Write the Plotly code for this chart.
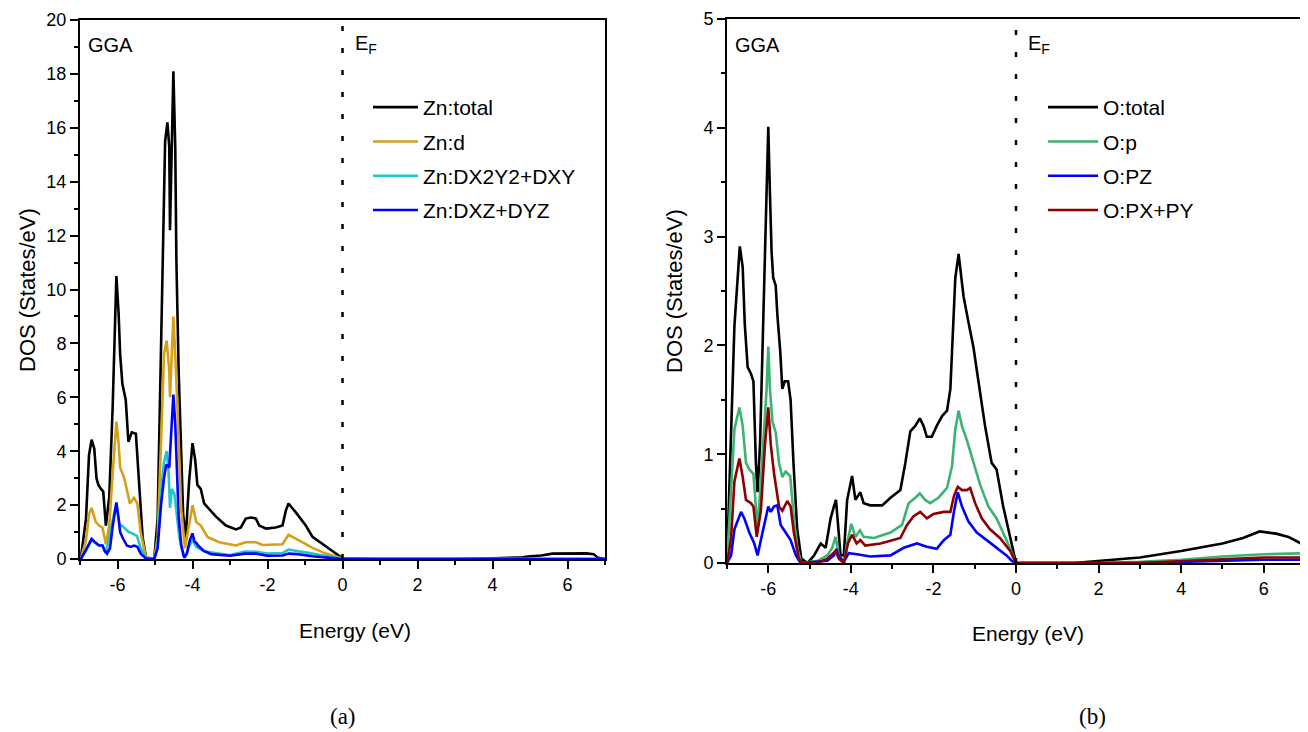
import plotly.graph_objects as go

# ---------------- Panel (a): Zn ----------------
zn_total_e = [-7.0, -6.98, -6.84, -6.76, -6.69, -6.62, -6.56, -6.51, -6.44, -6.38, -6.31, -6.22, -6.13, -6.06, -6.03,
              -5.97, -5.93, -5.87, -5.78, -5.71, -5.62, -5.51, -5.42, -5.33, -5.24, -5.02, -4.93, -4.87, -4.8, -4.73,
              -4.67, -4.62, -4.6, -4.55, -4.51, -4.46, -4.43, -4.37, -4.31, -4.25, -4.18, -4.09, -4.0, -3.93, -3.87,
              -3.78, -3.69, -3.56, -3.38, -3.11, -2.84, -2.71, -2.58, -2.44, -2.31, -2.22, -2.04, -1.78, -1.6, -1.51,
              -1.44, -1.24, -0.98, -0.8, -0.53, -0.27, 0.0, 1.0, 3.0, 4.0, 4.8, 5.0, 5.3, 5.6, 6.0, 6.5, 6.7, 6.8, 7.0]
zn_total_dos = [0.0, 0.0, 1.5, 3.85, 4.43, 4.1, 3.0, 2.75, 2.6, 2.5, 1.24, 2.3, 5.6, 9.1, 10.5,
                9.1, 7.6, 6.5, 5.9, 4.35, 4.7, 4.65, 2.9, 0.8, 0.05, 0.0, 1.5, 5.6, 11.1, 15.5,
                16.2, 15.3, 12.2, 15.0, 18.1, 15.3, 11.1, 7.0, 4.3, 1.65, 0.8, 2.9, 4.3, 3.7, 2.75,
                2.6, 2.06, 1.85, 1.58, 1.24, 1.1, 1.17, 1.5, 1.54, 1.5, 1.24, 1.13, 1.17, 1.24, 1.8,
                2.06, 1.72, 1.24, 0.82, 0.55, 0.27, 0.03, 0.0, 0.0, 0.03, 0.06, 0.1, 0.13, 0.2, 0.21, 0.21, 0.18, 0.05, 0.0]

zn_d_e = [-7.0, -6.98, -6.84, -6.76, -6.69, -6.58, -6.49, -6.4, -6.31, -6.22, -6.13, -6.06, -6.03, -5.97, -5.93,
          -5.82, -5.73, -5.67, -5.56, -5.47, -5.38, -5.24, -5.02, -4.93, -4.84, -4.76, -4.69, -4.62, -4.6, -4.55,
          -4.51, -4.44, -4.37, -4.3, -4.2, -4.09, -4.0, -3.9, -3.78, -3.6, -3.29, -2.84, -2.58, -2.31, -2.13,
          -1.6, -1.44, -1.16, -0.8, -0.44, 0.0, 7.0]
zn_d_dos = [0.0, 0.0, 0.69, 1.65, 1.9, 1.37, 1.24, 1.17, 0.55, 1.24, 3.16, 4.8, 5.1, 4.26, 3.4,
            3.0, 2.5, 2.06, 2.27, 2.06, 0.96, 0.05, 0.0, 0.82, 4.3, 7.6, 8.1, 7.0, 6.0, 7.7,
            9.0, 7.0, 4.3, 1.8, 0.4, 1.24, 2.0, 1.37, 1.24, 0.82, 0.62, 0.5, 0.62, 0.62, 0.52,
            0.55, 0.9, 0.69, 0.41, 0.2, 0.02, 0.0]

zn_dx2y2_e = [-7.0, -6.98, -6.84, -6.69, -6.5, -6.4, -6.31, -6.13, -6.06, -6.03, -5.95, -5.85, -5.7, -5.6, -5.48,
              -5.38, -5.24, -5.02, -4.93, -4.84, -4.76, -4.69, -4.64, -4.6, -4.55, -4.48, -4.42, -4.35, -4.25, -4.2,
              -4.05, -4.0, -3.9, -3.7, -3.4, -3.0, -2.6, -2.3, -2.0, -1.6, -1.44, -1.2, -0.8, -0.4, 0.0, 7.0]
zn_dx2y2_dos = [0.0, 0.0, 0.3, 0.7, 0.5, 0.5, 0.2, 1.5, 1.9, 2.0, 1.3, 1.2, 1.0, 0.95, 0.85,
                0.4, 0.02, 0.0, 0.5, 2.5, 3.6, 4.0, 3.3, 1.9, 2.6, 2.4, 1.6, 0.8, 0.15, 0.05,
                0.6, 0.7, 0.45, 0.3, 0.22, 0.15, 0.28, 0.27, 0.2, 0.22, 0.35, 0.3, 0.2, 0.1, 0.0, 0.0]

zn_dxz_e = [-7.0, -6.98, -6.84, -6.69, -6.58, -6.49, -6.4, -6.34, -6.28, -6.2, -6.13, -6.06, -6.03, -5.97, -5.93,
            -5.85, -5.75, -5.65, -5.56, -5.47, -5.38, -5.24, -5.02, -4.93, -4.84, -4.76, -4.7, -4.62, -4.57, -4.51,
            -4.46, -4.42, -4.37, -4.3, -4.22, -4.15, -4.07, -4.0, -3.95, -3.9, -3.85, -3.7, -3.5, -3.0, -2.6,
            -2.3, -2.0, -1.6, -1.44, -1.2, -0.8, -0.4, 0.0, 7.0]
zn_dxz_dos = [0.0, 0.0, 0.35, 0.75, 0.6, 0.5, 0.5, 0.3, 0.2, 0.4, 1.2, 1.95, 2.1, 1.5, 1.0,
              0.75, 0.5, 0.45, 0.5, 0.45, 0.2, 0.02, 0.0, 0.4, 2.0, 3.0, 3.5, 3.4, 4.8, 6.1,
              5.0, 3.3, 1.6, 0.5, 0.05, 0.2, 0.7, 0.95, 0.65, 0.6, 0.5, 0.3, 0.18, 0.12, 0.2,
              0.2, 0.12, 0.13, 0.2, 0.18, 0.1, 0.05, 0.0, 0.0]

# ---------------- Panel (b): O ----------------
o_total_e = [-7.0, -6.95, -6.9, -6.82, -6.69, -6.62, -6.57, -6.5, -6.42, -6.36, -6.3, -6.26, -6.2, -6.14, -6.08,
             -6.04, -6.0, -5.96, -5.92, -5.88, -5.82, -5.78, -5.71, -5.66, -5.6, -5.52, -5.46, -5.39, -5.3, -5.2,
             -5.05, -4.89, -4.73, -4.61, -4.49, -4.41, -4.36, -4.31, -4.25, -4.17, -4.09, -3.97, -3.89, -3.77, -3.69,
             -3.53, -3.24, -3.04, -2.8, -2.68, -2.56, -2.44, -2.33, -2.24, -2.16, -2.04, -1.92, -1.79, -1.67, -1.59,
             -1.53, -1.47, -1.39, -1.34, -1.27, -1.15, -1.03, -0.91, -0.75, -0.59, -0.47, -0.31, -0.14, 0.0,
             1.4, 2.0, 3.0, 4.0, 5.0, 5.5, 5.9, 6.3, 6.6, 6.8, 6.9, 7.0]
o_total_dos = [0.0, 0.6, 1.4, 2.18, 2.91, 2.72, 2.2, 1.8, 1.74, 1.67, 0.92, 0.65, 1.09, 1.94, 2.96,
               3.4, 4.01, 3.4, 2.86, 2.62, 2.55, 2.28, 1.94, 1.6, 1.67, 1.67, 1.5, 0.92, 0.31, 0.04,
               0.0, 0.07, 0.18, 0.14, 0.41, 0.52, 0.58, 0.35, 0.07, 0.07, 0.58, 0.8, 0.58, 0.65, 0.55,
               0.53, 0.53, 0.6, 0.67, 0.92, 1.21, 1.26, 1.33, 1.26, 1.16, 1.16, 1.26, 1.35, 1.4, 1.6,
               2.11, 2.62, 2.84, 2.66, 2.45, 2.21, 1.98, 1.67, 1.26, 0.92, 0.86, 0.52, 0.24, 0.0,
               0.0, 0.02, 0.05, 0.11, 0.18, 0.23, 0.29, 0.27, 0.24, 0.2, 0.18, 0.17]

o_p_e = [-7.0, -6.95, -6.9, -6.82, -6.7, -6.62, -6.54, -6.46, -6.36, -6.3, -6.26, -6.18, -6.1, -6.04, -6.0,
         -5.96, -5.9, -5.82, -5.74, -5.66, -5.58, -5.47, -5.38, -5.3, -5.2, -4.81, -4.57, -4.45, -4.37, -4.29,
         -4.17, -4.09, -3.99, -3.89, -3.78, -3.69, -3.44, -3.04, -2.76, -2.6, -2.44, -2.33, -2.2, -2.08, -1.88,
         -1.67, -1.55, -1.47, -1.39, -1.31, -1.19, -1.03, -0.87, -0.67, -0.47, -0.23, 0.0,
         2.0, 3.0, 4.0, 5.0, 6.0, 7.0]
o_p_dos = [0.0, 0.35, 0.75, 1.23, 1.43, 1.26, 0.92, 0.86, 0.82, 0.48, 0.31, 0.75, 1.26, 1.6, 1.99,
           1.6, 1.3, 1.2, 0.92, 0.79, 0.84, 0.8, 0.41, 0.14, 0.0, 0.02, 0.07, 0.14, 0.24, 0.07,
           0.0, 0.18, 0.36, 0.24, 0.3, 0.24, 0.23, 0.28, 0.35, 0.55, 0.6, 0.64, 0.58, 0.55, 0.6,
           0.69, 0.89, 1.23, 1.4, 1.26, 1.13, 0.92, 0.72, 0.52, 0.41, 0.21, 0.0,
           0.0, 0.01, 0.03, 0.06, 0.08, 0.09]

o_pz_e = [-7.0, -6.95, -6.9, -6.82, -6.66, -6.58, -6.46, -6.34, -6.26, -6.18, -6.1, -6.0, -5.94, -5.86, -5.78,
          -5.7, -5.58, -5.46, -5.33, -5.22, -4.57, -4.41, -4.35, -4.29, -4.17, -4.05, -3.85, -3.53, -3.04, -2.72,
          -2.4, -2.16, -1.92, -1.75, -1.59, -1.5, -1.41, -1.31, -1.15, -0.95, -0.71, -0.47, -0.23, -0.1, 0.0,
          3.0, 4.0, 5.0, 6.0, 7.0]
o_pz_dos = [0.0, 0.03, 0.07, 0.31, 0.47, 0.41, 0.28, 0.18, 0.07, 0.21, 0.35, 0.52, 0.47, 0.52, 0.53,
            0.35, 0.28, 0.21, 0.07, 0.0, 0.02, 0.07, 0.13, 0.06, 0.01, 0.09, 0.08, 0.06, 0.07, 0.14,
            0.18, 0.15, 0.13, 0.21, 0.26, 0.48, 0.65, 0.52, 0.38, 0.28, 0.21, 0.14, 0.07, 0.02, 0.0,
            0.0, 0.01, 0.02, 0.03, 0.03]

o_pxpy_e = [-7.0, -6.95, -6.9, -6.82, -6.7, -6.62, -6.54, -6.42, -6.36, -6.28, -6.18, -6.08, -6.0, -5.94, -5.86,
            -5.74, -5.66, -5.54, -5.46, -5.38, -5.26, -5.18, -4.81, -4.57, -4.37, -4.29, -4.17, -4.07, -3.97, -3.86,
            -3.77, -3.65, -3.28, -2.8, -2.64, -2.48, -2.32, -2.16, -2.0, -1.75, -1.59, -1.5, -1.41, -1.31, -1.19,
            -1.11, -0.99, -0.83, -0.63, -0.39, -0.14, 0.0, 3.0, 4.0, 5.0, 6.0, 7.0]
o_pxpy_dos = [0.0, 0.1, 0.24, 0.75, 0.96, 0.79, 0.58, 0.55, 0.52, 0.24, 0.48, 1.09, 1.43, 1.09, 0.82,
              0.52, 0.48, 0.57, 0.52, 0.28, 0.04, 0.0, 0.0, 0.04, 0.11, 0.04, 0.0, 0.18, 0.26, 0.18,
              0.21, 0.16, 0.18, 0.23, 0.35, 0.43, 0.47, 0.41, 0.45, 0.47, 0.47, 0.62, 0.7, 0.67, 0.67,
              0.69, 0.55, 0.41, 0.31, 0.23, 0.11, 0.0, 0.0, 0.02, 0.035, 0.05, 0.05]

x_tickvals = [-6, -4, -2, 0, 2, 4, 6]
x_ticktext = ["-6", "-4", "-2", "0", "2", "4", "6"]

W, H = 1308, 732
OFF = 8  # page body margin offset in the screenshot
FONT = "Liberation Sans, Arial, sans-serif"
SERIF = "Liberation Serif, Times New Roman, serif"

fig = go.Figure()

left_series = [
    ("Zn:total", zn_total_e, zn_total_dos, "#000000"),
    ("Zn:d", zn_d_e, zn_d_dos, "#D4A017"),
    ("Zn:DX2Y2+DXY", zn_dx2y2_e, zn_dx2y2_dos, "#1EC8C8"),
    ("Zn:DXZ+DYZ", zn_dxz_e, zn_dxz_dos, "#0000FF"),
]
for i, (name, e, d, c) in enumerate(left_series):
    fig.add_trace(go.Scatter(x=e, y=d, mode="lines", name=name, line=dict(color=c, width=2.6),
                             xaxis="x", yaxis="y", legend="legend", legendgroup="a%d" % i))

right_series = [
    ("O:total", o_total_e, o_total_dos, "#000000"),
    ("O:p", o_p_e, o_p_dos, "#3CB371"),
    ("O:PZ", o_pz_e, o_pz_dos, "#0000FF"),
    ("O:PX+PY", o_pxpy_e, o_pxpy_dos, "#8B0000"),
]
for i, (name, e, d, c) in enumerate(right_series):
    fig.add_trace(go.Scatter(x=e, y=d, mode="lines", name=name, line=dict(color=c, width=2.6),
                             xaxis="x2", yaxis="y2", legend="legend2", legendgroup="b%d" % i))


def px_x(p):
    return (p - OFF) / W


def px_y(p):
    return 1 - (p - OFF) / H


common_axis = dict(showline=True, linecolor="black", linewidth=2, mirror=True, ticks="outside",
                   ticklen=8, tickwidth=2, tickcolor="black", showgrid=False, zeroline=False,
                   tickfont=dict(family=FONT, size=18, color="black"))
minor_style = dict(ticks="outside", ticklen=4, tickwidth=2, tickcolor="black")

fig.update_layout(
    width=W, height=H,
    paper_bgcolor="white", plot_bgcolor="white",
    margin=dict(l=0, r=0, t=0, b=0, autoexpand=False),
    showlegend=True,
    xaxis=dict(domain=[px_x(80), px_x(605)], range=[-7, 7], anchor="y",
               tickvals=x_tickvals, ticktext=x_ticktext,
               minor=dict(dtick=1, tick0=-7, **minor_style), **common_axis),
    yaxis=dict(domain=[px_y(559), px_y(20)], range=[0, 20], anchor="x", dtick=2,
               minor=dict(dtick=1, **minor_style), **common_axis),
    xaxis2=dict(domain=[px_x(727), px_x(1305)], range=[-7, 7], anchor="y2",
                tickvals=x_tickvals, ticktext=x_ticktext,
                minor=dict(dtick=1, tick0=-7, **minor_style), **common_axis),
    yaxis2=dict(domain=[px_y(563), px_y(19)], range=[0, 5], anchor="x2", dtick=1,
                minor=dict(dtick=0.5, **minor_style), **common_axis),
    legend=dict(x=px_x(368), y=px_y(87), xanchor="left", yanchor="top", bgcolor="rgba(0,0,0,0)",
                font=dict(family=FONT, size=21, color="black"), tracegroupgap=4, itemwidth=45),
    legend2=dict(x=px_x(1043), y=px_y(87), xanchor="left", yanchor="top", bgcolor="rgba(0,0,0,0)",
                 font=dict(family=FONT, size=21, color="black"), tracegroupgap=4, itemwidth=50),
)

# Fermi level dotted lines
for xr, yr, top in (("x", "y", 20), ("x2", "y2", 5)):
    fig.add_shape(type="line", xref=xr, yref=yr, x0=0, x1=0, y0=0, y1=top,
                  line=dict(color="black", width=2.5, dash="5px,17px"))

ann = []
ann.append(dict(xref="paper", yref="paper", x=px_x(86), y=px_y(45), text="GGA", showarrow=False,
                xanchor="left", yanchor="middle", font=dict(family=FONT, size=20, color="black")))
ann.append(dict(xref="paper", yref="paper", x=px_x(733), y=px_y(45), text="GGA", showarrow=False,
                xanchor="left", yanchor="middle", font=dict(family=FONT, size=20, color="black")))
ann.append(dict(xref="paper", yref="paper", x=px_x(353), y=px_y(44), text="E<sub>F</sub>", showarrow=False,
                xanchor="left", yanchor="middle", font=dict(family=FONT, size=20, color="black")))
ann.append(dict(xref="paper", yref="paper", x=px_x(1026), y=px_y(44), text="E<sub>F</sub>", showarrow=False,
                xanchor="left", yanchor="middle", font=dict(family=FONT, size=20, color="black")))
ann.append(dict(xref="paper", yref="paper", x=px_x(27), y=px_y(290), text="DOS (States/eV)", showarrow=False,
                textangle=-90, xanchor="center", yanchor="middle", font=dict(family=FONT, size=22, color="black")))
ann.append(dict(xref="paper", yref="paper", x=px_x(675), y=px_y(291), text="DOS (States/eV)", showarrow=False,
                textangle=-90, xanchor="center", yanchor="middle", font=dict(family=FONT, size=22, color="black")))
ann.append(dict(xref="paper", yref="paper", x=px_x(355), y=px_y(630), text="Energy (eV)", showarrow=False,
                xanchor="center", yanchor="middle", font=dict(family=FONT, size=21, color="black")))
ann.append(dict(xref="paper", yref="paper", x=px_x(1028), y=px_y(633), text="Energy (eV)", showarrow=False,
                xanchor="center", yanchor="middle", font=dict(family=FONT, size=21, color="black")))
ann.append(dict(xref="paper", yref="paper", x=px_x(343), y=px_y(716), text="(a)", showarrow=False,
                xanchor="center", yanchor="middle", font=dict(family=SERIF, size=23, color="black")))
ann.append(dict(xref="paper", yref="paper", x=px_x(1092), y=px_y(716), text="(b)", showarrow=False,
                xanchor="center", yanchor="middle", font=dict(family=SERIF, size=23, color="black")))
fig.update_layout(annotations=ann)

fig.write_html("out.html")
